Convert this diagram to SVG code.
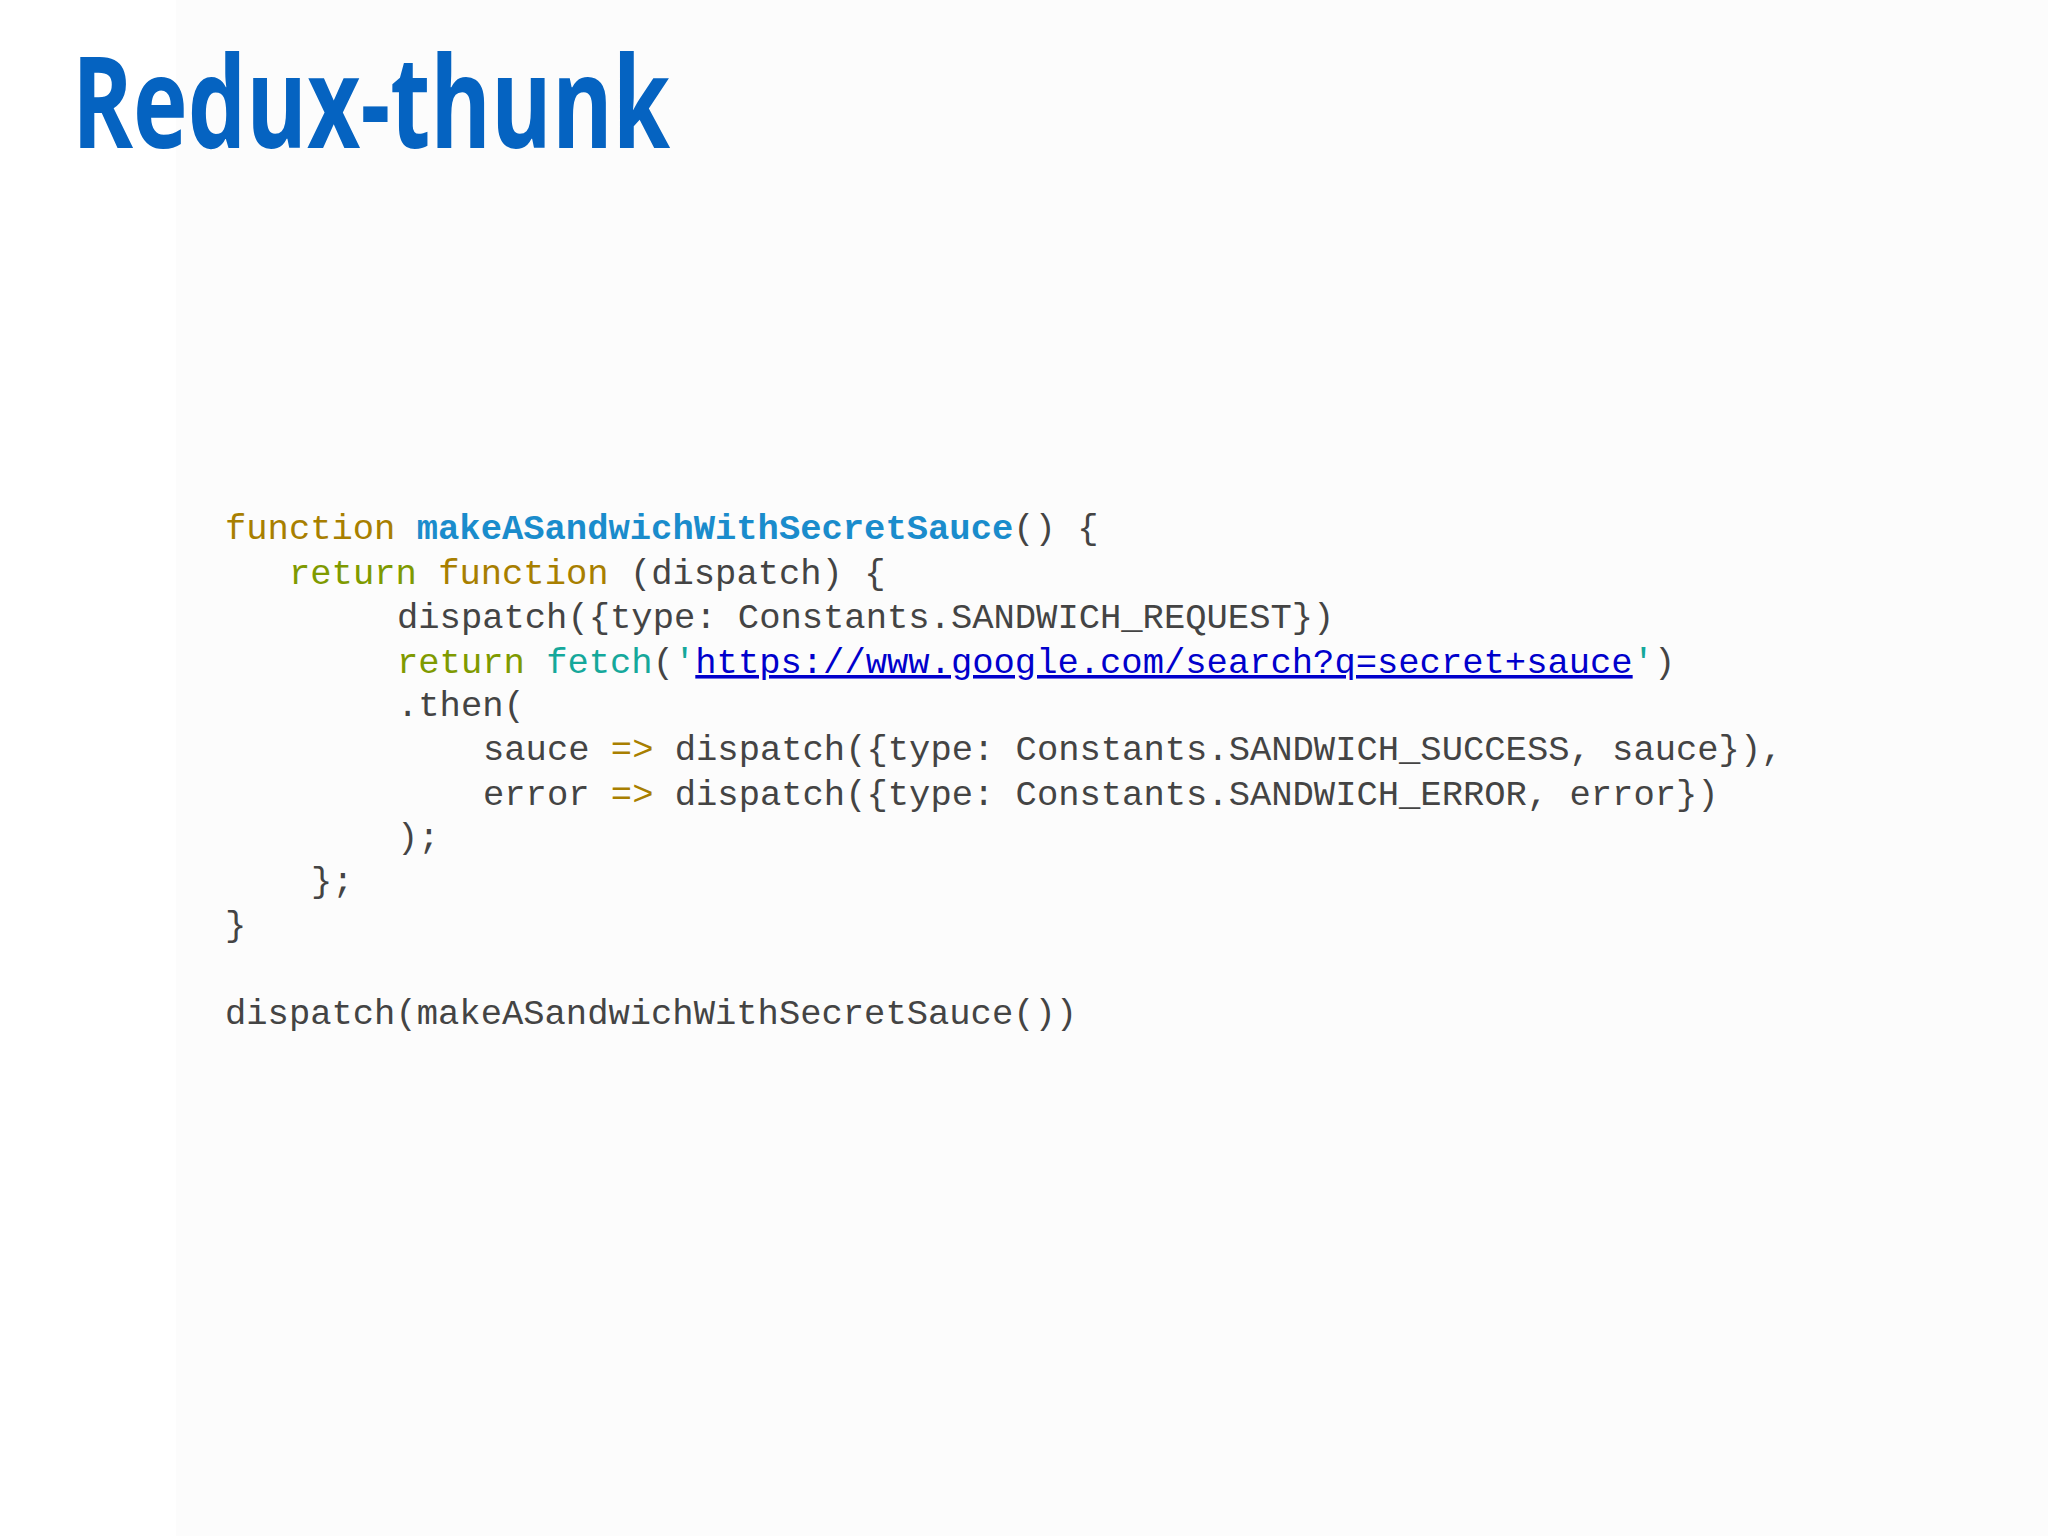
<svg xmlns="http://www.w3.org/2000/svg" width="2048" height="1536" viewBox="0 0 2048 1536">
<style>
.c{font-family:"Liberation Mono","Courier New",monospace;font-size:35.5px;fill:#444;white-space:pre}
.k{fill:#a87f00}.r{fill:#7f9a00}.f{fill:#1a8ccc;font-weight:bold}.t{fill:#15a89b}.u{fill:#0000cc;text-decoration:underline}
</style>
<rect width="2048" height="1536" fill="#ffffff"/>
<rect x="176" y="0" width="1872" height="1536" fill="#fcfcfc"/>
<g id="title"><text x="72" y="148" font-family="Open Sans, Liberation Sans, sans-serif" font-weight="bold" font-size="128" fill="#0563c1" textLength="598" lengthAdjust="spacingAndGlyphs">Redux-thunk</text></g>
<g id="code">
<text class="c" x="225" y="539"><tspan class="k">function</tspan> <tspan class="f">makeASandwichWithSecretSauce</tspan>() {</text>
<text class="c" x="289" y="584"><tspan class="r">return</tspan> <tspan class="k">function</tspan> (dispatch) {</text>
<text class="c" x="397" y="628">dispatch({type: Constants.SANDWICH_REQUEST})</text>
<text class="c" x="397" y="673"><tspan class="r">return</tspan> <tspan class="t">fetch</tspan>(<tspan class="t">'</tspan><tspan class="u">https://www.google.com/search?q=secret+sauce</tspan><tspan class="t">'</tspan>)</text>
<text class="c" x="397" y="716">.then(</text>
<text class="c" x="483" y="760">sauce <tspan class="k">=&gt;</tspan> dispatch({type: Constants.SANDWICH_SUCCESS, sauce}),</text>
<text class="c" x="483" y="805">error <tspan class="k">=&gt;</tspan> dispatch({type: Constants.SANDWICH_ERROR, error})</text>
<text class="c" x="397" y="848">);</text>
<text class="c" x="311" y="892">};</text>
<text class="c" x="225" y="936">}</text>
<text class="c" x="225" y="1024">dispatch(makeASandwichWithSecretSauce())</text>
</g>
</svg>
